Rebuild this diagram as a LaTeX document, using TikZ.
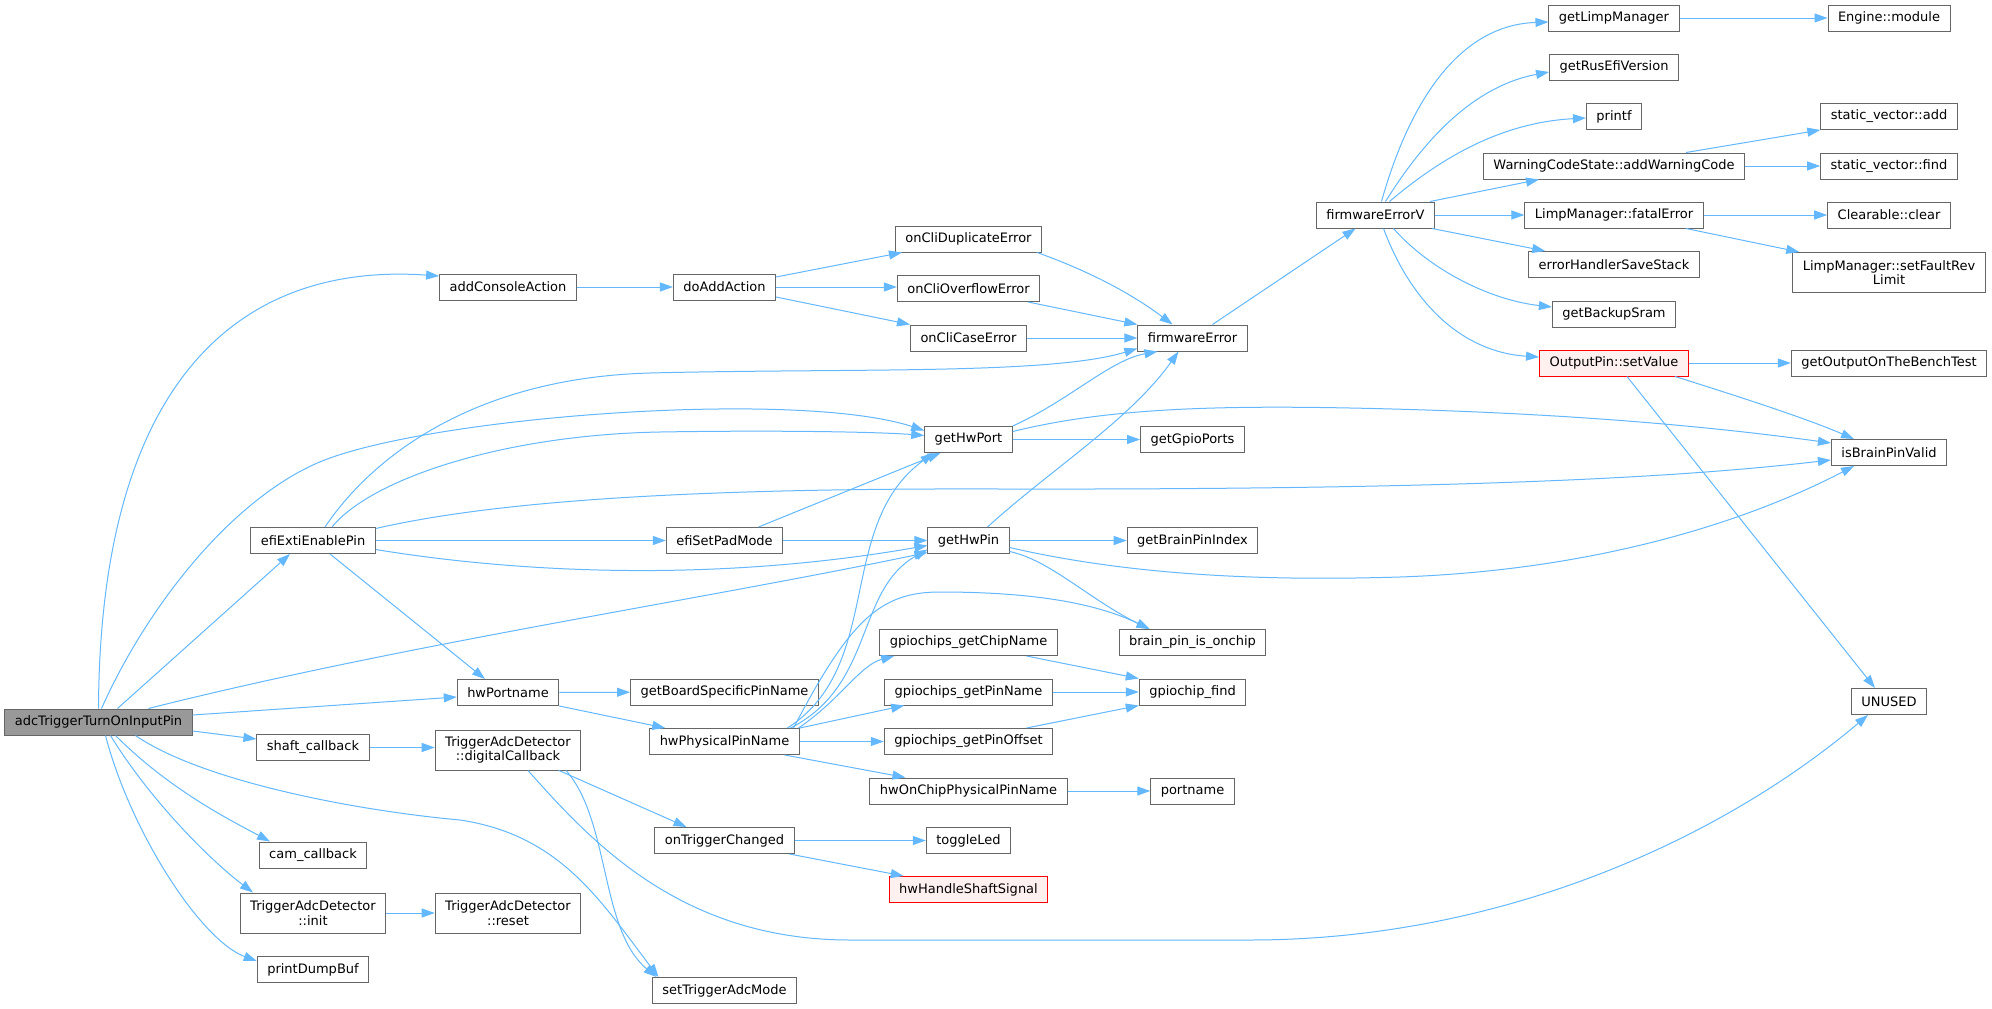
\documentclass[tikz,border=0pt]{standalone}
\usepackage{fontspec}
\setmainfont{DejaVu Sans}
\usetikzlibrary{arrows.meta}
\definecolor{edgeblue}{HTML}{63B8FF}
\definecolor{boxgray}{HTML}{666666}
\definecolor{rootgray}{HTML}{999999}
\definecolor{badfill}{HTML}{FFF0F0}
\tikzset{
	fn/.style={draw=boxgray,fill=white,line width=1pt,inner xsep=10pt,inner ysep=3pt,minimum height=26pt,align=center,font=\fontsize{13}{14.5}\selectfont},
	fn2/.style={fn,minimum height=40pt},
	root/.style={fn,fill=rootgray},
	bad/.style={fn,draw=red,fill=badfill},
	call/.style={draw=edgeblue,line width=1pt,-{Triangle[length=13pt,width=9pt]}}
}
\begin{document}
\begin{tikzpicture}[x=1pt,y=-1pt]
		\useasboundingbox[fill=white](0,0)rectangle(1992,1009);
		\node[root](adc)at(98.5,722){adcTriggerTurnOnInputPin};
		\node[fn](addCon)at(508,287){addConsoleAction};
		\node[fn](exti)at(313,540.5){efiExtiEnablePin};
		\node[fn](hwPort)at(508,692.5){hwPortname};
		\node[fn](shaft)at(313,747.5){shaft\_callback};
		\node[fn](cam)at(313,855){cam\_callback};
		\node[fn2](init)at(313,913){TriggerAdcDetector\\::init};
		\node[fn](dump)at(313,969.5){printDumpBuf};
		\node[fn2](digCb)at(508,750){TriggerAdcDetector\\::digitalCallback};
		\node[fn2](reset)at(508,913){TriggerAdcDetector\\::reset};
		\node[fn](doAdd)at(724.5,287){doAddAction};
		\node[fn](padMode)at(724.5,540.5){efiSetPadMode};
		\node[fn](boardPin)at(724.5,692){getBoardSpecificPinName};
		\node[fn](physPin)at(724.5,741.5){hwPhysicalPinName};
		\node[fn](trigChg)at(724.5,840.5){onTriggerChanged};
		\node[fn](adcMode)at(724.5,990.5){setTriggerAdcMode};
		\node[fn](dupErr)at(968.5,239){onCliDuplicateError};
		\node[fn](ovfErr)at(968.5,288.5){onCliOverflowError};
		\node[fn](caseErr)at(968.5,338){onCliCaseError};
		\node[fn](getPort)at(968.5,439.5){getHwPort};
		\node[fn](getPin)at(968.5,540.5){getHwPin};
		\node[fn](chipName)at(968.5,642.5){gpiochips\_getChipName};
		\node[fn](pinName)at(968.5,692){gpiochips\_getPinName};
		\node[fn](pinOffset)at(968.5,741.5){gpiochips\_getPinOffset};
		\node[fn](onChipPhys)at(968.5,791){hwOnChipPhysicalPinName};
		\node[fn](toggleLed)at(968.5,840.5){toggleLed};
		\node[bad](shaftSig)at(968.5,889.5){hwHandleShaftSignal};
		\node[fn](fwErr)at(1192.5,338){firmwareError};
		\node[fn](gpioPorts)at(1192.5,439.5){getGpioPorts};
		\node[fn](pinIndex)at(1192.5,540.5){getBrainPinIndex};
		\node[fn](onchip)at(1192.5,642.5){brain\_pin\_is\_onchip};
		\node[fn](chipFind)at(1192.5,692){gpiochip\_find};
		\node[fn](portname)at(1192.5,791){portname};
		\node[fn](fwErrV)at(1375.5,215){firmwareErrorV};
		\node[fn](limpMgr)at(1614,18){getLimpManager};
		\node[fn](rusVer)at(1614,67){getRusEfiVersion};
		\node[fn](printf)at(1614,116.5){printf};
		\node[fn](addWarn)at(1614,166){WarningCodeState::addWarningCode};
		\node[fn](fatalErr)at(1614,215){LimpManager::fatalError};
		\node[fn](saveStack)at(1614,264.5){errorHandlerSaveStack};
		\node[fn](backupSram)at(1614,314){getBackupSram};
		\node[bad](setValue)at(1614,363){OutputPin::setValue};
		\node[fn](engMod)at(1889,18){Engine::module};
		\node[fn](svAdd)at(1889,116.5){static\_vector::add};
		\node[fn](svFind)at(1889,166){static\_vector::find};
		\node[fn](clrClear)at(1889,215){Clearable::clear};
		\node[fn2](faultRev)at(1889,272.5){LimpManager::setFaultRev\\Limit};
		\node[fn](benchTest)at(1889,363){getOutputOnTheBenchTest};
		\node[fn](brainValid)at(1889,452.5){isBrainPinValid};
		\node[fn](unused)at(1889,701.5){UNUSED};
		\draw[call](adc.north)..controls(100,380)and(240,262)..([yshift=11pt]addCon.west);
		\draw[call]([xshift=3pt]adc.north)..controls(150,600)and(240,490)..(330,458)..controls(450,415)and(800,390)..([yshift=9pt]getPort.west);
		\draw[call]([xshift=19pt]adc.north)--([xshift=-23pt]exti.south);
		\draw[call]([xshift=50pt]adc.north)..controls(400,645)and(700,600)..([yshift=-12pt]getPin.west);
		\draw[call]([yshift=7pt]adc.east)--([yshift=-4.5pt]hwPort.west);
		\draw[call]([yshift=-9pt]adc.east)--([yshift=8.5pt]shaft.west);
		\draw[call]([xshift=37pt]adc.south)..controls(200,780)and(350,810)..(460,820)..controls(560,835)and(600,900)..([xshift=-66pt]adcMode.north);
		\draw[call]([xshift=17pt]adc.south)..controls(170,790)and(230,820)..([xshift=-43pt]cam.north);
		\draw[call]([xshift=12pt]adc.south)..controls(150,800)and(210,860)..([xshift=-60pt]init.north);
		\draw[call]([xshift=7pt]adc.south)..controls(130,830)and(200,940)..([yshift=-5pt]dump.north west);
		\draw[call](addCon)--(doAdd);
		\draw[call]([yshift=10pt]doAdd.east)--([xshift=7pt]dupErr.south west);
		\draw[call](doAdd.east)--(doAdd.east-|ovfErr.west);
		\draw[call]([yshift=-10pt]doAdd.east)--(caseErr.north west);
		\draw[call]([xshift=-5pt]dupErr.south east)..controls(1100,275)and(1140,300)..([xshift=-20pt]fwErr.north);
		\draw[call]([xshift=-12pt]ovfErr.south east)--(fwErr.north west);
		\draw[call](caseErr)--(fwErr);
		\draw[call]([xshift=20pt]fwErr.north)--([xshift=-20pt]fwErrV.south);
		\draw[call]([xshift=6pt]fwErrV.north)..controls(1410,100)and(1460,25)..([yshift=-4pt]limpMgr.west);
		\draw[call]([xshift=10pt]fwErrV.north)..controls(1430,130)and(1480,85)..([yshift=-5pt]rusVer.west);
		\draw[call]([xshift=14pt]fwErrV.north)..controls(1450,150)and(1510,122)..([yshift=-1.5pt]printf.west);
		\draw[call]([xshift=-5pt]fwErrV.north east)--([xshift=56pt]addWarn.south west);
		\draw[call](fwErrV)--(fatalErr);
		\draw[call]([xshift=-3pt]fwErrV.south east)--([xshift=17pt]saveStack.north west);
		\draw[call]([xshift=18pt]fwErrV.south)..controls(1430,270)and(1490,300)..([yshift=7pt]backupSram.west);
		\draw[call]([xshift=8pt]fwErrV.south)..controls(1410,300)and(1460,352)..([yshift=6pt]setValue.west);
		\draw[call](limpMgr)--(engMod);
		\draw[call]([xshift=72pt]addWarn.north)--(svAdd.south west);
		\draw[call](addWarn)--(svFind);
		\draw[call](fatalErr)--(clrClear);
		\draw[call]([xshift=72pt]fatalErr.south)--([xshift=7pt]faultRev.north west);
		\draw[call](setValue)--(benchTest);
		\draw[call]([xshift=61pt]setValue.south)..controls(1750,400)and(1810,420)..([xshift=-35pt]brainValid.north);
		\draw[call]([xshift=13pt]setValue.south)--([xshift=-14pt]unused.north);
		\draw[call](getPort)--(gpioPorts);
		\draw[call](getPort.north east)..controls(1070,400)and(1110,360)..([xshift=-35pt]fwErr.south);
		\draw[call]([yshift=8pt]getPort.east)..controls(1100,410)and(1200,405)..(1350,408)..controls(1550,412)and(1700,425)..([yshift=9.5pt]brainValid.west);
		\draw[call](getPin)--(pinIndex);
		\draw[call]([xshift=19pt]getPin.north)..controls(1050,470)and(1130,420)..([xshift=-14pt]fwErr.south);
		\draw[call]([yshift=-7pt]getPin.east)..controls(1150,580)and(1300,580)..(1400,577)..controls(1600,570)and(1750,520)..([xshift=-35pt]brainValid.south);
		\draw[call]([yshift=-11pt]getPin.east)..controls(1050,560)and(1090,600)..([xshift=-43pt]onchip.north);
		\draw[call](padMode)--(getPin);
		\draw[call]([xshift=34pt]padMode.north)--([xshift=-28pt]getPort.south);
		\draw[call](exti)--(padMode);
		\draw[call]([xshift=12pt]exti.north)..controls(370,460)and(470,378)..(650,373)..controls(850,368)and(1050,375)..([yshift=3pt]fwErr.south west);
		\draw[call]([xshift=19pt]exti.north)..controls(370,480)and(500,435)..(660,432)..controls(780,430)and(880,432)..([yshift=4pt]getPort.west);
		\draw[call]([yshift=12pt]exti.east)..controls(500,500)and(700,488)..(1000,489)..controls(1500,490)and(1700,475)..([yshift=-7.5pt]brainValid.west);
		\draw[call]([yshift=-9pt]exti.east)..controls(500,570)and(700,585)..([yshift=-5pt]getPin.west);
		\draw[call]([xshift=17pt]exti.south)--([xshift=-23pt]hwPort.north);
		\draw[call](hwPort)--(boardPin);
		\draw[call](hwPort.south east)--([xshift=16pt]physPin.north west);
		\draw[call](physPin)--(pinOffset);
		\draw[call]([xshift=63pt]physPin.north)..controls(885,665)and(835,525)..([xshift=-35pt]getPort.south);
		\draw[call]([xshift=66pt]physPin.north)..controls(875,685)and(855,590)..([yshift=-9pt]getPin.west);
		\draw[call]([xshift=69pt]physPin.north)..controls(850,620)and(880,592)..(940,592)..controls(1040,592)and(1100,605)..([xshift=-43pt]onchip.north);
		\draw[call]([xshift=74pt]physPin.north)..controls(840,700)and(860,665)..([xshift=15pt]chipName.south west);
		\draw[call](physPin.north east)--([xshift=20pt]pinName.south west);
		\draw[call]([xshift=-15pt]physPin.south east)--([xshift=36pt]onChipPhys.north west);
		\draw[call]([xshift=58pt]chipName.south)--(chipFind.north west);
		\draw[call](pinName)--(chipFind);
		\draw[call]([xshift=58pt]pinOffset.north)--(chipFind.south west);
		\draw[call](onChipPhys)--(portname);
		\draw[call](trigChg)--(toggleLed);
		\draw[call]([xshift=-5pt]trigChg.south east)--([xshift=15pt]shaftSig.north west);
		\draw[call](shaft.east)--(shaft.east-|digCb.west);
		\draw[call]([xshift=51pt]digCb.south)--([xshift=-38pt]trigChg.north);
		\draw[call]([xshift=58pt]digCb.south)..controls(610,820)and(600,930)..([xshift=-68pt]adcMode.north);
		\draw[call]([xshift=20pt]digCb.south)..controls(590,840)and(680,940)..(850,940)--(1250,940)..controls(1500,940)and(1720,840)..([xshift=-21pt]unused.south);
		\draw[call](init)--(reset);
	\end{tikzpicture}
\end{document}
